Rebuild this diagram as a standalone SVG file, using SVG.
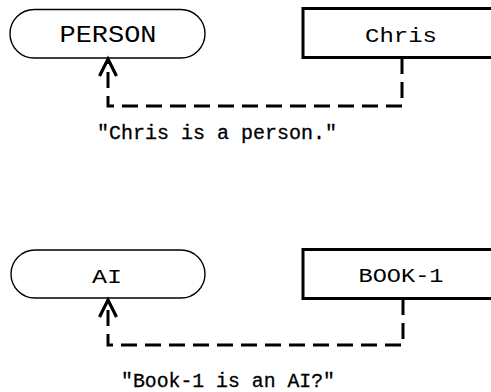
<svg xmlns="http://www.w3.org/2000/svg" width="491" height="392" viewBox="0 0 491 392">
<style>
  .pill { fill: #fff; stroke: #000; stroke-width: 1.4; }
  .box { fill: #fff; stroke: #000; stroke-width: 3; }
  .lbl { font-family: "Liberation Mono", "Courier New", monospace; fill: #000; text-anchor: middle; }
  .cap { font-family: "Liberation Mono", "Courier New", monospace; fill: #000; text-anchor: middle; font-size: 20px; stroke: #000; stroke-width: 0.3; }
  .dash { fill: none; stroke: #000; stroke-width: 3; stroke-dasharray: 16 8; }
  .head { fill: none; stroke: #000; stroke-width: 3.2; stroke-linecap: butt; stroke-linejoin: miter; }
</style>
<rect width="491" height="392" fill="#fff"/>
<g id="person">
  <rect class="pill" x="10" y="9.5" width="195" height="48.5" rx="24.25"/>
  <text class="lbl" x="108" y="42" font-size="23" textLength="97" lengthAdjust="spacingAndGlyphs">PERSON</text>
</g>
<g id="chris">
  <rect class="box" x="303" y="8.5" width="200" height="49"/>
  <text class="lbl" x="401" y="42" font-size="21" textLength="72" lengthAdjust="spacingAndGlyphs">Chris</text>
</g>
<g id="ai">
  <rect class="pill" x="11" y="250" width="194" height="48" rx="24"/>
  <text class="lbl" x="107" y="283" font-size="21" textLength="30" lengthAdjust="spacingAndGlyphs">AI</text>
</g>
<g id="book1">
  <rect class="box" x="303" y="249.5" width="200" height="49"/>
  <text class="lbl" x="401" y="282" font-size="21" textLength="85" lengthAdjust="spacingAndGlyphs">BOOK-1</text>
</g>
<g id="connectors">
  <path class="dash" d="M402,58 V106 H108 V62"/>
  <polyline class="head" points="99.5,76 108,59 116.5,76"/>
  <path class="dash" d="M403,299 V345 H108 V302"/>
  <polyline class="head" points="99.5,317 108,300 116.5,317"/>
</g>
<g id="captions">
  <text class="cap" x="217" y="139" textLength="240" lengthAdjust="spacingAndGlyphs">"Chris is a person."</text>
  <text class="cap" x="228" y="387" textLength="214" lengthAdjust="spacingAndGlyphs">"Book-1 is an AI?"</text>
</g>
</svg>
